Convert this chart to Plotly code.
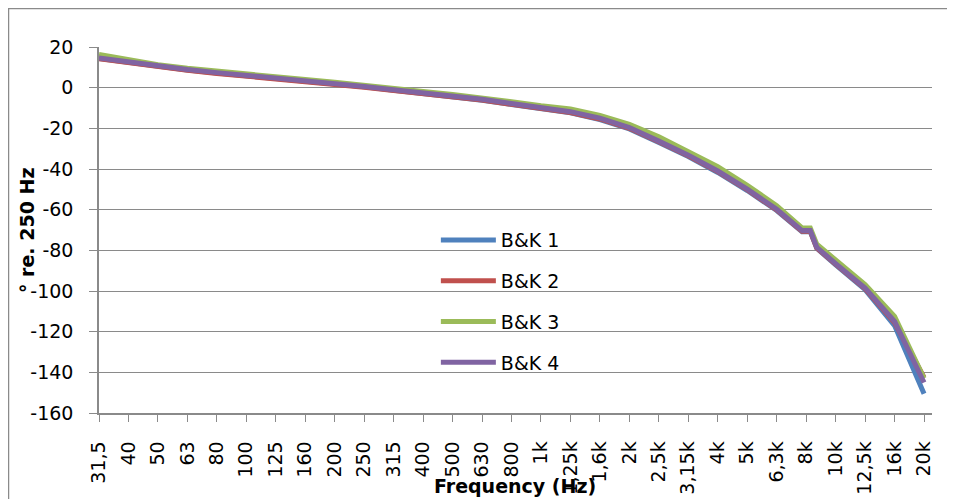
import plotly.graph_objects as go

# third-octave band labels (tick labels)
TICK_LABELS = ["31,5", "40", "50", "63", "80", "100", "125", "160", "200", "250",
               "315", "400", "500", "630", "800", "1k", "1,25k", "1,6k", "2k", "2,5k",
               "3,15k", "4k", "5k", "6,3k", "8k", "10k", "12,5k", "16k", "20k"]

# data positions, in third-octave band steps from 31,5 Hz
BAND = [0, 1, 2, 3, 4, 5, 6, 7, 8, 9, 10, 11, 12, 13, 14, 15, 16, 17, 18, 19,
        20, 21, 22, 23, 23.86, 24.14, 24.36, 25, 26, 27, 28]

BK1 = [14.4, 12.3, 10.3, 8.7, 7.2, 5.9, 4.7, 3.4, 2.1, 0.4, -1.3, -2.8, -4.4, -6.2, -8.3,
       -10.6, -12.4, -15.7, -20.3, -27.0, -33.9, -41.7, -50.6, -60.4, -70.8, -70.8,
       -79.0, -87.2, -99.3, -117.0, -150.5]
BK2 = [14.2, 12.1, 10.1, 8.5, 7.0, 5.7, 4.5, 3.2, 1.9, 0.2, -1.4, -2.8, -4.4, -6.1, -8.2,
       -10.4, -12.2, -15.4, -20.0, -26.6, -33.5, -41.3, -50.2, -60.1, -70.6, -70.6,
       -78.8, -86.8, -98.8, -115.5, -142.5]
BK3 = [16.3, 13.6, 11.3, 9.5, 8.0, 6.6, 5.3, 4.0, 2.7, 1.0, -0.6, -1.9, -3.4, -5.0, -6.9,
       -8.9, -10.5, -13.6, -18.0, -24.2, -31.2, -38.8, -48.0, -58.0, -69.0, -69.0,
       -77.0, -84.8, -96.8, -112.5, -143.0]
BK4 = [14.6, 12.5, 10.5, 8.9, 7.4, 6.1, 4.9, 3.6, 2.3, 0.6, -1.0, -2.4, -4.0, -5.7, -7.8,
       -10.0, -11.8, -15.0, -19.6, -26.3, -33.2, -41.0, -49.9, -59.8, -70.3, -70.3,
       -78.5, -86.5, -98.5, -115.0, -145.0]

NAMES = ["B&K 1", "B&K 2", "B&K 3", "B&K 4"]
COLORS = ["#4F81BD", "#C0504D", "#9BBB59", "#8064A2"]
SERIES = [BK1, BK2, BK3, BK4]

Y_TICKS = [20, 0, -20, -40, -60, -80, -100, -120, -140, -160]
Y_TICK_TEXT = ["20", "0", "-20", "-40", "-60", "-80", "-100", "-120", "-140", "-160"]

FONT = "DejaVu Sans"
GRID = "#8A8A8A"

fig = go.Figure()
for name, col, vals in zip(NAMES, COLORS, SERIES):
    fig.add_trace(go.Scatter(x=BAND, y=vals, mode="lines", name=name,
                             legendgroup=name,
                             line=dict(color=col, width=5)))

OFF = 8  # page body margin
W, H = 947, 491
L, R, T, B = 91, 23, 39, 86

fig.update_layout(
    width=W, height=H,
    margin=dict(l=L, r=R, t=T, b=B, autoexpand=False),
    paper_bgcolor="white", plot_bgcolor="white",
    font=dict(family=FONT, size=19, color="#000000"),
    showlegend=True,
    legend=dict(x=0.4044, y=0.524, xanchor="left", yanchor="top",
                bgcolor="rgba(0,0,0,0)", font=dict(size=19),
                traceorder="grouped", tracegroupgap=13, itemwidth=55),
    xaxis=dict(
        range=[0, 28.27], automargin=False,
        tickmode="array", tickvals=list(range(len(TICK_LABELS))), ticktext=TICK_LABELS,
        tickangle=-90, ticks="outside", ticklen=7, tickcolor=GRID, tickwidth=1.3,
        showline=True, linecolor=GRID, linewidth=1.5,
        showgrid=False, zeroline=False,
        ticklabelstandoff=12,
    ),
    yaxis=dict(
        range=[-160, 20], automargin=False,
        tickmode="array", tickvals=Y_TICKS, ticktext=Y_TICK_TEXT,
        ticks="outside", ticklen=8, tickcolor=GRID, tickwidth=1.3,
        showline=True, linecolor=GRID, linewidth=1.5,
        showgrid=True, gridcolor=GRID, gridwidth=1.3,
        zeroline=False,
        ticklabelstandoff=12,
    ),
)

pw = W - L - R
ph = H - T - B

def px_x(p):
    return (p - OFF - L) / pw

def px_y(p):
    return (H - B - (p - OFF)) / ph

fig.add_annotation(text="<b>Frequency (Hz)</b>", xref="paper", yref="paper",
                   x=px_x(515), y=px_y(486), xanchor="center", yanchor="middle",
                   showarrow=False, font=dict(size=19, family=FONT))
fig.add_annotation(text="<b>° re. 250 Hz</b>", xref="paper", yref="paper",
                   x=px_x(27), y=px_y(231), xanchor="center", yanchor="middle",
                   showarrow=False, textangle=-90,
                   font=dict(size=19, family=FONT))

# chart-area border
fig.add_shape(type="rect", xref="paper", yref="paper",
              x0=px_x(8.5), y0=px_y(520), x1=px_x(980), y1=px_y(8.5),
              line=dict(color=GRID, width=1.5), layer="below")

fig.write_html("out.html")
